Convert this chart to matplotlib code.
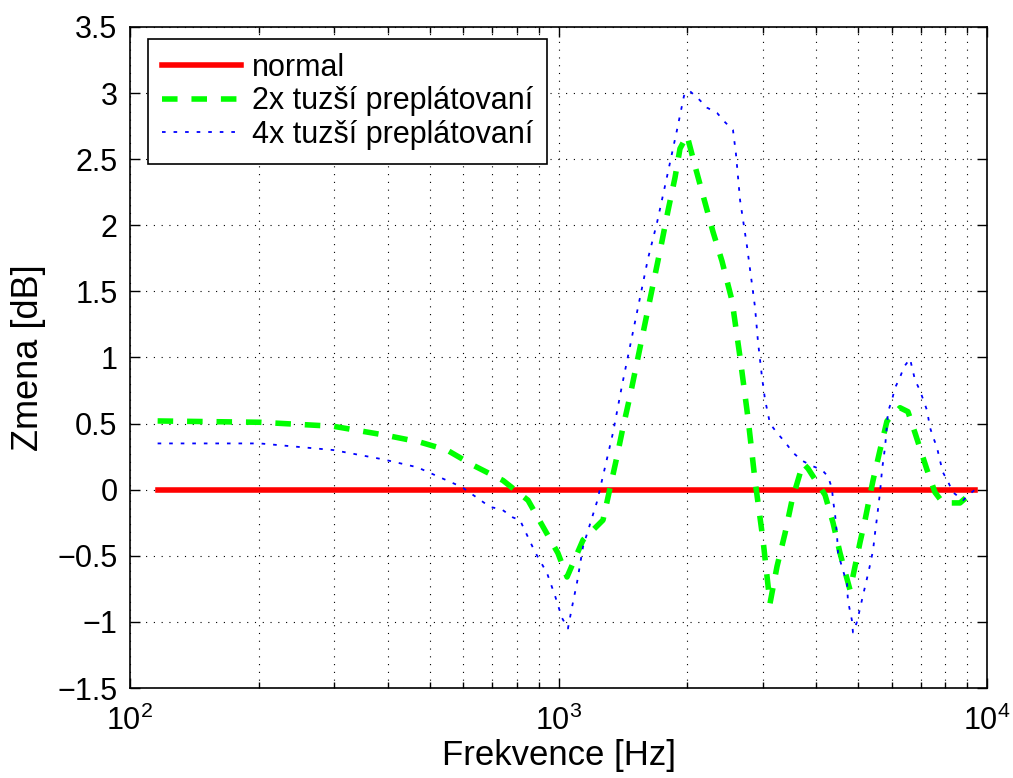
import numpy as np
import matplotlib
matplotlib.use('Agg')
import matplotlib.pyplot as plt
from matplotlib.ticker import FixedLocator, LogLocator, FuncFormatter, NullFormatter

plt.rcParams['font.family'] = ['Liberation Sans', 'DejaVu Sans']
plt.rcParams['mathtext.default'] = 'regular'

# data (frequency in Hz, change in dB)
f_normal = [116, 9376]
v_normal = [0.0, 0.0]

f_2x = [116, 201, 298, 398, 475, 549, 632, 742, 849, 920, 997, 1047, 1141, 1270,
        1369, 1414, 1469, 1744, 1801, 1870, 1921, 1995, 2094, 2198, 2294, 2407,
        2541, 2653, 2769, 2875, 3001, 3116, 3236, 3378, 3507, 3721, 3823, 4188,
        4372, 4540, 4791, 5053, 5192, 5420, 5628, 5843, 6266, 6540, 6792, 7245,
        7562, 7895, 8650, 9376]
v_2x = [0.52, 0.51, 0.48, 0.41, 0.36, 0.30, 0.185, 0.07, -0.08, -0.28, -0.48, -0.66,
        -0.38, -0.23, 0.25, 0.47, 0.71, 1.88, 2.11, 2.36, 2.58, 2.68, 2.42, 2.17,
        1.95, 1.73, 1.43, 1.0, 0.54, 0.07, -0.38, -0.86, -0.58, -0.33, -0.08, 0.2,
        0.16, -0.04, -0.25, -0.48, -0.76, -0.4, -0.23, 0.07, 0.3, 0.52, 0.62, 0.59,
        0.43, 0.15, -0.02, -0.10, -0.10, 0.0]

f_4x = [116, 201, 298, 389, 468, 558, 595, 692, 738, 783, 813, 881, 940, 981, 1019,
        1052, 1075, 1105, 1141, 1230, 1284, 1340, 1407, 1618, 1698, 1792, 1890, 1963,
        2017, 2117, 2221, 2344, 2447, 2554, 2595, 2653, 2754, 2875, 2921, 2985, 3034,
        3116, 3236, 3378, 3527, 3701, 3905, 4120, 4255, 4347, 4372, 4418, 4466, 4490,
        4612, 4712, 4737, 4840, 4866, 4972, 5053, 5135, 5248, 5333, 5420, 5478, 5538,
        5628, 5689, 5781, 5843, 5875, 6002, 6100, 6266, 6403, 6612, 6792, 6976, 7245,
        7362, 7482, 7643, 7768, 7895, 8110, 8331, 8790, 9128, 9376]
v_4x = [0.35, 0.35, 0.30, 0.23, 0.17, 0.06, 0.02, -0.13, -0.15, -0.21, -0.23, -0.47,
        -0.63, -0.80, -0.97, -1.05, -0.89, -0.70, -0.43, -0.09, 0.17, 0.43, 0.79,
        1.75, 2.02, 2.37, 2.72, 2.98, 3.02, 2.96, 2.89, 2.85, 2.78, 2.72, 2.54, 2.19,
        1.84, 1.38, 1.12, 0.85, 0.68, 0.50, 0.43, 0.36, 0.28, 0.22, 0.18, 0.15, 0.10,
        0.01, -0.08, -0.18, -0.34, -0.48, -0.61, -0.71, -0.84, -0.99, -1.08, -1.0,
        -0.90, -0.80, -0.67, -0.57, -0.46, -0.33, -0.21, -0.02, 0.15, 0.32, 0.49, 0.59,
        0.68, 0.77, 0.85, 0.93, 0.99, 0.83, 0.75, 0.60, 0.47, 0.40, 0.32, 0.22, 0.13,
        0.06, -0.02, -0.08, -0.03, 0.0]

labels = ['normal', '2x tuzší preplátovaní', '4x tuzší preplátovaní']
y_ticks = np.arange(-1.5, 3.51, 0.5)

fig = plt.figure(figsize=(10.13, 7.78), dpi=100)
ax = fig.add_axes([130 / 1013, 1 - 688 / 778, 857 / 1013, 661 / 778])

ax.semilogx(f_normal, v_normal, color='#ff0000', lw=4, label=labels[0])
ax.semilogx(f_2x, v_2x, color='#00ff00', lw=4, dashes=(2.8, 2.5), label=labels[1])
ax.semilogx(f_4x, v_4x, color='#0000ff', lw=1.3, dashes=(2.0, 4.4), label=labels[2])

ax.set_xlim(100, 10000)
ax.set_ylim(-1.5, 3.5)
ax.xaxis.set_major_locator(FixedLocator([100, 1000, 10000]))
ax.xaxis.set_major_formatter(FuncFormatter(lambda x, p: '$10^{%d}$' % round(np.log10(x))))
ax.xaxis.set_minor_locator(LogLocator(base=10, subs=np.arange(2, 10)))
ax.xaxis.set_minor_formatter(NullFormatter())
ax.set_yticks(y_ticks)
ax.yaxis.set_major_formatter(FuncFormatter(lambda y, p: ('%g' % round(y, 2)).replace('-', '\u2212')))

ax.grid(True, which='both', color='k', lw=0.8, linestyle=(0, (1, 6)))
ax.tick_params(which='both', direction='in', top=True, right=True, labelsize=22, width=1)
ax.tick_params(which='major', length=7)
ax.tick_params(axis='y', pad=9)
ax.tick_params(axis='x', pad=13)
ax.tick_params(which='minor', length=4)
for s in ax.spines.values():
    s.set_linewidth(1.2)

ax.set_xlabel('Frekvence [Hz]', fontsize=25, labelpad=1)
ax.set_ylabel('Zmena [dB]', fontsize=26, labelpad=8)

leg = ax.legend(loc='upper left', bbox_to_anchor=(0.021, 0.982), borderaxespad=0,
                fontsize=22, fancybox=False, framealpha=1, edgecolor='k',
                handlelength=2.6, handletextpad=0.35, labelspacing=0.12, borderpad=0.45)
leg.get_frame().set_linewidth(1.2)

fig.savefig('out.png', dpi=100)
